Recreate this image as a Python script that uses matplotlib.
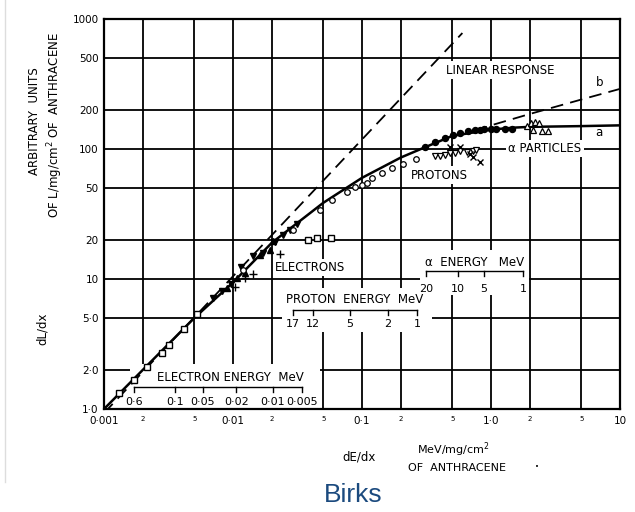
import matplotlib
matplotlib.use("Agg")
import matplotlib.pyplot as plt
from matplotlib.patches import Rectangle
from matplotlib.lines import Line2D
from matplotlib.ticker import NullLocator

# light output of anthracene vs. specific energy loss (log-log)
curve_a_x = [0.001, 0.002, 0.005, 0.01, 0.02, 0.05, 0.1, 0.2, 0.3, 0.5, 1.0, 1.5, 2.0, 5.0, 10.0]
curve_a_y = [1.0, 2.0, 5.0, 9.4, 19.0, 38.5, 60, 86, 102, 126, 141, 146, 148, 150, 152]
curve_b_x = [0.75, 1.0, 2.0, 5.0, 10.0]
curve_b_y = [138, 152, 186, 240, 290]
linear_x = [0.001, 0.6]
linear_y = [0.93, 780]

el_sq_x = [0.00131, 0.00171, 0.00215, 0.00282, 0.00319, 0.00417, 0.00526]
el_sq_y = [1.33, 1.67, 2.10, 2.70, 3.10, 4.12, 5.38]
el_up_x = [0.0090, 0.0107, 0.0124, 0.0162, 0.0194, 0.0204]
el_up_y = [8.5, 10.1, 11.2, 15.3, 16.7, 19.5]
el_dn_x = [0.0070, 0.0082, 0.0097, 0.0115, 0.0143, 0.0171, 0.0211, 0.0244, 0.0277, 0.0313]
el_dn_y = [7.1, 8.1, 9.1, 12.4, 14.9, 15.8, 19.3, 21.9, 23.9, 26.3]
el_plus_x = [0.0104, 0.0124, 0.0143, 0.023]
el_plus_y = [8.7, 10.1, 11.0, 15.6]
sq20_x = [0.038, 0.045, 0.058]
sq20_y = [20.0, 20.5, 20.5]

pr_circ_x = [0.012, 0.029, 0.047, 0.059, 0.076, 0.088, 0.10, 0.109, 0.119, 0.142, 0.17, 0.207, 0.26]
pr_circ_y = [11.7, 23.9, 34, 40.6, 46.7, 51, 52.8, 55, 60, 65, 71.5, 76.7, 84]
pr_tri_x = [0.37, 0.40, 0.44, 0.48, 0.53, 0.58, 0.65, 0.72, 0.76]
pr_tri_y = [89, 89, 90, 93, 93, 96, 94, 97, 98]
pr_cross_x = [0.48, 0.57, 0.69, 0.72, 0.82]
pr_cross_y = [104, 104, 91, 87, 80]

al_dot_x = [0.31, 0.37, 0.44, 0.51, 0.57, 0.66, 0.75, 0.82, 0.89, 1.0, 1.1, 1.28, 1.45]
al_dot_y = [104, 113, 122, 128, 133, 137, 139, 140, 142, 142, 142, 142, 143]
al_tri_x = [1.9, 2.05, 2.2, 2.35, 2.1, 2.5, 2.75]
al_tri_y = [150, 158, 160, 158, 140, 138, 138]

x_grid = [0.001, 0.002, 0.005, 0.01, 0.02, 0.05, 0.1, 0.2, 0.5, 1.0, 2.0, 5.0, 10.0]
x_labels = ["0·001", "2", "5", "0·01", "2", "5", "0·1", "2", "5", "1·0", "2", "5", "10"]
y_grid = [1, 2, 5, 10, 20, 50, 100, 200, 500, 1000]
y_labels = ["1·0", "2·0", "5·0", "10", "20", "50", "100", "200", "500", "1000"]

electron_mev = ["0·6", "0·1", "0·05", "0·02", "0·01", "0·005"]
electron_dedx = [0.00171, 0.00355, 0.00585, 0.0106, 0.0204, 0.0343]
proton_mev = ["17", "12", "5", "2", "1"]
proton_dedx = [0.0292, 0.0417, 0.0807, 0.159, 0.267]
alpha_mev = ["20", "10", "5", "1"]
alpha_dedx = [0.313, 0.555, 0.883, 1.77]

W, H = 635, 512
fig = plt.figure(figsize=(W / 100, H / 100), dpi=100)
ax = fig.add_axes([104 / W, 1 - 409 / H, 516 / W, 390 / H])
ax.set_xscale("log")
ax.set_yscale("log")
ax.set_xlim(0.001, 10)
ax.set_ylim(1, 1000)

for v in x_grid:
    ax.axvline(v, color="black", lw=1.3, zorder=1)
for v in y_grid:
    ax.axhline(v, color="black", lw=1.3, zorder=1)
for s in ax.spines.values():
    s.set_linewidth(1.6)

ax.set_xticks(x_grid)
ax.set_xticklabels(x_labels)
ax.set_yticks(y_grid)
ax.set_yticklabels(y_labels, fontsize=7.5)
ax.xaxis.set_minor_locator(NullLocator())
ax.yaxis.set_minor_locator(NullLocator())
ax.tick_params(length=0)
ax.tick_params(axis="x", pad=5)
ax.tick_params(axis="y", pad=4)
for t in ax.get_xticklabels():
    t.set_fontsize(7.5 if len(t.get_text()) > 1 else 5)

# white panels behind the energy scales
for x0, x1, y0, y1 in [(0.0016, 0.047, 1.02, 2.2), (0.024, 0.35, 3.9, 8.5), (0.28, 1.98, 7.5, 16.7)]:
    ax.add_patch(Rectangle((x0, y0), x1 - x0, y1 - y0, facecolor="white", edgecolor="none", zorder=2))

# curves
ax.plot(linear_x, linear_y, color="black", lw=1.3, ls=(0, (7, 4)), zorder=3)
ax.plot(curve_a_x, curve_a_y, color="black", lw=1.8, zorder=3)
ax.plot(curve_b_x, curve_b_y, color="black", lw=1.3, ls=(0, (7, 4)), zorder=3)

# data points
ms = dict(zorder=5, ls="none")
ax.plot(el_sq_x, el_sq_y, marker="s", ms=4.3, mfc="white", mec="black", mew=1, **ms)
ax.plot(el_up_x, el_up_y, marker="^", ms=4.5, color="black", **ms)
ax.plot(el_dn_x, el_dn_y, marker="v", ms=4.5, color="black", **ms)
ax.plot(el_plus_x, el_plus_y, marker="+", ms=5.5, color="black", mew=1, **ms)
ax.plot(sq20_x, sq20_y, marker="s", ms=4.3, mfc="white", mec="black", mew=1, **ms)
ax.plot(pr_circ_x, pr_circ_y, marker="o", ms=4, mfc="white", mec="black", mew=0.9, **ms)
ax.plot(pr_tri_x, pr_tri_y, marker="v", ms=4.5, mfc="white", mec="black", mew=0.9, **ms)
ax.plot(pr_cross_x, pr_cross_y, marker="x", ms=4.5, color="black", mew=1, **ms)
ax.plot(al_dot_x, al_dot_y, marker="o", ms=4.3, color="black", **ms)
ax.plot(al_tri_x, al_tri_y, marker="^", ms=4.5, mfc="white", mec="black", mew=0.9, **ms)

box = dict(facecolor="white", edgecolor="none", pad=1.5)
lab = dict(fontsize=8.5, zorder=6, va="center")
ax.text(1.17, 405, "LINEAR RESPONSE", ha="center", bbox=box, **lab)
ax.text(7.0, 327, "b", ha="center", **lab)
ax.text(6.9, 135, "a", ha="center", **lab)
ax.text(2.62, 101, "α PARTICLES", ha="center", bbox=box, **lab)
ax.text(0.395, 63, "PROTONS", ha="center", bbox=box, **lab)
ax.text(0.0395, 12.2, "ELECTRONS", ha="center", bbox=box, **lab)


def energy_scale(title, names, xs, y_bar, y_num, x_title, y_title):
    ax.plot([xs[0], xs[-1]], [y_bar, y_bar], color="black", lw=1, zorder=4)
    for x, n in zip(xs, names):
        ax.plot([x, x], [y_bar, y_bar * 0.92], color="black", lw=1, zorder=4)
        ax.text(x, y_num, n, ha="center", va="center", fontsize=8, zorder=6)
    ax.text(x_title, y_title, title, ha="center", va="center", fontsize=8.5, zorder=6)


energy_scale("ELECTRON ENERGY  MeV", electron_mev, electron_dedx, 1.476, 1.13, 0.0095, 1.76)
energy_scale("PROTON  ENERGY  MeV", proton_mev, proton_dedx, 5.78, 4.5, 0.0883, 6.9)
energy_scale("α  ENERGY   MeV", alpha_mev, alpha_dedx, 11.5, 8.4, 0.75, 13.3)

# axis titles
fig.text(35 / W, 1 - 121 / H, "ARBITRARY  UNITS", rotation=90, ha="center", va="center", fontsize=8.5)
fig.text(55 / W, 1 - 125 / H, "OF L/mg/cm$^2$ OF  ANTHRACENE", rotation=90, ha="center", va="center", fontsize=8.5)
fig.text(42 / W, 1 - 329 / H, "dL/dx", rotation=90, ha="center", va="center", fontsize=8.5)
fig.text(359 / W, 1 - 457 / H, "dE/dx", ha="center", va="center", fontsize=8.5)
fig.text(453 / W, 1 - 450 / H, "MeV/mg/cm$^2$", ha="center", va="center", fontsize=8)
fig.text(457 / W, 1 - 468 / H, "OF  ANTHRACENE", ha="center", va="center", fontsize=8)
fig.text(537 / W, 1 - 467 / H, "•", ha="center", va="center", fontsize=5)

fig.text(353 / W, 1 - 495 / H, "Birks", ha="center", va="center", fontsize=19,
         color="#1b4a7e", family="Liberation Sans")
fig.add_artist(Line2D([5 / W, 5 / W], [1 - 482 / H, 1], color="#dddddd", lw=1))

fig.savefig("out.png", dpi=100)
